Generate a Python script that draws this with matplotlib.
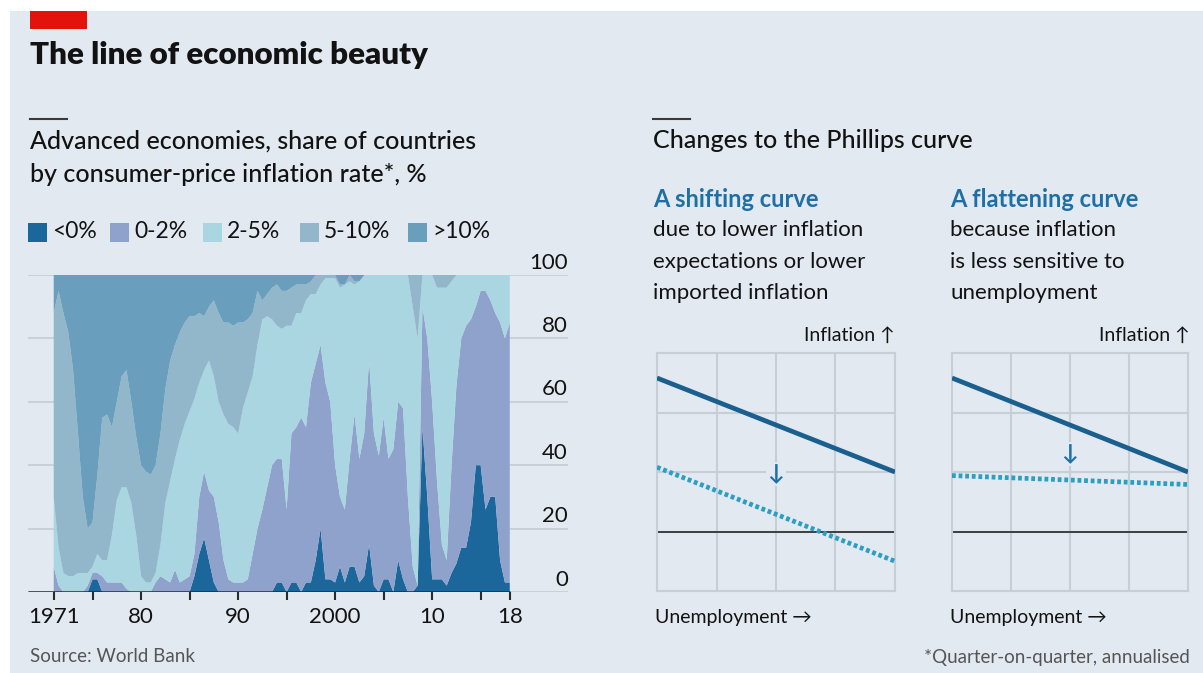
import numpy as np
import matplotlib.pyplot as plt
from matplotlib.patches import Rectangle
from matplotlib.lines import Line2D

plt.rcParams['font.family'] = ['Lato', 'DejaVu Sans']

# half-yearly readings, 1971 - 2018
years = np.arange(1971.0, 2018.01, 0.5)

# cumulative share of countries (%) with inflation below each threshold
below_0 = [0, 0, 0, 0, 0, 0, 0, 0, 4, 4, 0, 0, 0, 0, 0, 0, 0, 0, 0, 0,
           0, 0, 0, 0, 0, 0, 0, 0, 0, 5, 12, 17, 10, 3, 0, 0, 0, 0, 0, 0,
           0, 0, 0, 0, 0, 0, 3, 3, 0, 3, 3, 0, 3, 3, 10, 20, 4, 4, 3, 8,
           3, 8, 8, 3, 5, 15, 2, 0, 4, 4, 0, 10, 4, 0, 0, 2, 52, 30, 4, 4,
           4, 2, 6, 9, 14, 14, 22, 40, 40, 26, 30, 30, 10, 3, 3]
below_2 = [8, 2, 0, 0, 0, 0, 0, 2, 6, 6, 5, 3, 3, 3, 3, 1, 0, 0, 0, 0,
           0, 3, 5, 4, 3, 7, 3, 4, 5, 12, 30, 38, 32, 30, 22, 10, 4, 3, 3, 3,
           4, 12, 20, 26, 33, 40, 42, 42, 26, 50, 52, 55, 52, 66, 72, 78, 66, 60, 40, 30,
           26, 42, 56, 42, 50, 73, 50, 43, 55, 42, 45, 60, 58, 30, 8, 2, 90, 80, 60, 35,
           15, 10, 40, 65, 80, 84, 86, 90, 95, 95, 92, 88, 85, 80, 85]
below_5 = [30, 14, 6, 5, 5, 6, 6, 6, 8, 12, 10, 10, 18, 29, 33, 33, 28, 18, 5, 3,
           3, 6, 15, 28, 35, 42, 48, 53, 57, 61, 66, 70, 73, 68, 60, 56, 53, 52, 50, 58,
           63, 68, 78, 86, 87, 86, 84, 83, 84, 84, 88, 88, 92, 94, 94, 97, 99, 99, 99, 96,
           97, 98, 97, 98, 100, 100, 100, 100, 100, 100, 100, 100, 100, 100, 90, 80, 100, 100, 100, 96,
           96, 96, 98, 100, 100, 100, 100, 100, 100, 100, 100, 100, 100, 100, 100]
below_10 = [88, 95, 88, 82, 70, 50, 30, 20, 22, 37, 55, 56, 52, 60, 68, 70, 60, 49, 40, 38,
            37, 40, 50, 64, 73, 78, 82, 85, 87, 87, 88, 87, 90, 92, 88, 85, 85, 84, 85, 85,
            86, 88, 95, 92, 94, 96, 97, 95, 95, 96, 97, 97, 97, 98, 100, 100, 100, 100, 100, 97,
            97, 100, 98, 98, 100, 100, 100, 100, 100, 100, 100, 100, 100, 100, 100, 100, 100, 100, 100, 100,
            100, 100, 100, 100, 100, 100, 100, 100, 100, 100, 100, 100, 100, 100, 100]

bands = ['<0%', '0-2%', '2-5%', '5-10%', '>10%']
band_colors = ['#1b669b', '#8fa2cb', '#a9d6e1', '#92b7cb', '#6a9ebd']

x_ticks = [1971, 1975, 1980, 1985, 1990, 1995, 2000, 2005, 2010, 2015, 2018]
x_labels = ['1971', '', '80', '', '90', '', '2000', '', '10', '', '18']
y_ticks = [0, 20, 40, 60, 80, 100]

# Phillips-curve sketches
unemp = [0, 4]
curve_before = [3.58, 2.0]
curve_shifted = [2.08, 0.5]
curve_flat = [1.94, 1.79]

W, H = 1203, 673
bg = '#e2e9f1'
ink = '#121212'
blue = '#1d6fa5'


def box(x0, y0, x1, y1):
    return [x0 / W, 1 - y1 / H, (x1 - x0) / W, (y1 - y0) / H]


def ftext(x, y, s, **kw):
    kw.setdefault('va', 'center')
    kw.setdefault('color', ink)
    fig.text(x / W, 1 - y / H, s, **kw)


fig = plt.figure(figsize=(W / 100, H / 100), dpi=100, facecolor='white')
fig.patches.append(Rectangle((10 / W, 0), 1 - 10 / W, 1 - 11 / H, transform=fig.transFigure,
                             facecolor=bg, edgecolor='none', zorder=-10))
fig.patches.append(Rectangle((30 / W, 1 - 29 / H), 57 / W, 18 / H, transform=fig.transFigure,
                             facecolor='#e3120b', edgecolor='none'))

ftext(30, 55, 'The line of economic beauty', fontsize=22.5, fontweight='heavy')
for x0 in (30, 653):
    fig.add_artist(Line2D([x0 / W, (x0 + 37) / W], [1 - 119 / H] * 2, color='#3a3a3a', lw=1.5))
ftext(30, 141, 'Advanced economies, share of countries', fontsize=18, fontweight='medium')
ftext(30, 175, 'by consumer-price inflation rate*, %', fontsize=18, fontweight='medium')

# legend
for x, lab, col in zip([28, 110, 203, 300, 408], bands, band_colors):
    fig.patches.append(Rectangle((x / W, 1 - 242 / H), 19 / W, 19 / H, transform=fig.transFigure,
                                 facecolor=col, edgecolor='none'))
    ftext(x + 24, 232, lab, fontsize=16.5)

# stacked area chart
ax = fig.add_axes(box(28, 275, 568, 592))
ax.set_facecolor('none')
cum = np.vstack([below_0, below_2, below_5, below_10, np.full(len(years), 100)])
shares = np.diff(np.vstack([np.zeros(len(years)), cum]), axis=0)
ax.stackplot(years, shares, colors=band_colors, linewidth=0, zorder=2)
ax.set_xlim(1968.35, 2024.0)
ax.set_ylim(0, 100)
ax.set_yticks(y_ticks)
ax.yaxis.grid(True, color='#c4cbd3', lw=1.2, zorder=0)
ax.set_axisbelow(True)
ax.tick_params(axis='y', length=0, labelleft=False)
for v in y_ticks:
    ax.text(2024.0, v + 3.9, str(v), ha='right', va='center', fontsize=16, color=ink)
ax.hlines(0, 1968.35, 2018.0, color='#2b2b2b', lw=1.8, zorder=3)
ax.set_xticks(x_ticks)
ax.set_xticklabels(x_labels)
ax.tick_params(axis='x', direction='out', length=6, width=1.5, color='#2b2b2b',
               labelsize=16, labelcolor=ink, pad=5)
for s in ax.spines.values():
    s.set_visible(False)

# Phillips curve text
ftext(653, 141, 'Changes to the Phillips curve', fontsize=18, fontweight='medium')
ftext(653, 199, 'A shifting curve', fontsize=17, fontweight='bold', color=blue)
for y, line in zip([230, 262, 293], ['due to lower inflation', 'expectations or lower', 'imported inflation']):
    ftext(653, y, line, fontsize=16)
ftext(950, 199, 'A flattening curve', fontsize=17, fontweight='bold', color=blue)
for y, line in zip([230, 262, 293], ['because inflation', 'is less sensitive to', 'unemployment']):
    ftext(950, y, line, fontsize=16)

panels = [(box(657, 353, 895, 591), curve_shifted, 1.97, 895, 655),
          (box(952, 353, 1188, 591), curve_flat, 2.3, 1190, 950)]
for pos, new_curve, arrow_y, x_inf, x_unemp in panels:
    pax = fig.add_axes(pos)
    pax.set_facecolor('none')
    pax.set_xlim(0, 4)
    pax.set_ylim(0, 4)
    pax.set_xticks([1, 2, 3])
    pax.set_yticks([1, 2, 3])
    pax.grid(True, color='#c6ced6', lw=1.5)
    pax.tick_params(length=0, labelbottom=False, labelleft=False)
    for s in pax.spines.values():
        s.set_color('#c6ced6')
        s.set_linewidth(1.5)
    pax.axhline(1, color='#262626', lw=1.2, zorder=2)
    pax.plot(unemp, curve_before, color='#1b5f8f', lw=3.4, solid_capstyle='butt', zorder=3)
    pax.plot(unemp, new_curve, color='#2a9ec3', lw=3.4, linestyle=(0, (0.8, 0.6)),
             dash_capstyle='butt', zorder=3)
    pax.text(2, arrow_y, '↓', ha='center', va='center', fontsize=16, fontweight='bold',
             color=blue, zorder=4, bbox=dict(facecolor=bg, edgecolor='none', pad=1))
    ftext(x_inf, 335, 'Inflation ↑', fontsize=14, ha='right')
    ftext(x_unemp, 618, 'Unemployment →', fontsize=14)

ftext(30, 657, 'Source: World Bank', fontsize=13.5, color='#555555')
ftext(1190, 657, '*Quarter-on-quarter, annualised', fontsize=13.5, color='#555555', ha='right')

fig.savefig('out.png', dpi=100, facecolor=fig.get_facecolor())
